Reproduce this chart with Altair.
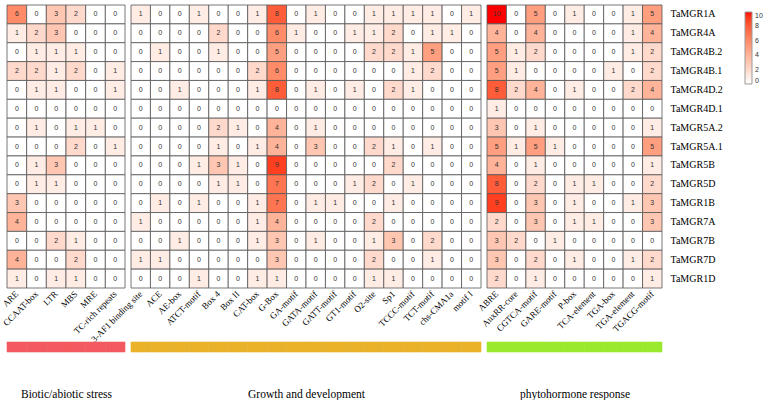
import altair as alt
import pandas as pd

genes = ["TaMGR1A", "TaMGR4A", "TaMGR4B.2", "TaMGR4B.1", "TaMGR4D.2", "TaMGR4D.1",
         "TaMGR5A.2", "TaMGR5A.1", "TaMGR5B", "TaMGR5D", "TaMGR1B", "TaMGR7A",
         "TaMGR7B", "TaMGR7D", "TaMGR1D"]

group_names = ["Biotic/abiotic stress", "Growth and development", "phytohormone response"]

stress_elements = ["ARE", "CCAAT-box", "LTR", "MBS", "MRE", "TC-rich repeats"]
growth_elements = ["3-AF1 binding site", "ACE", "AE-box", "ATCT-motif", "Box 4", "Box II",
                   "CAT-box", "G-Box", "GA-motif", "GATA-motif", "GATT-motif", "GT1-motif",
                   "O2-site", "Sp1", "TCCC-motif", "TCT-motif", "chs-CMA1a", "motif I"]
hormone_elements = ["ABRE", "AuxRR-core", "CGTCA-motif", "GARE-motif", "P-box",
                    "TCA-element", "TGA-box", "TGA-element", "TGACG-motif"]

stress_counts = [
    [6, 0, 3, 2, 0, 0],
    [1, 2, 3, 0, 0, 0],
    [0, 1, 1, 1, 0, 0],
    [2, 2, 1, 2, 0, 1],
    [0, 1, 1, 0, 0, 1],
    [0, 0, 0, 0, 0, 0],
    [0, 1, 0, 1, 1, 0],
    [0, 0, 0, 2, 0, 1],
    [0, 1, 3, 0, 0, 0],
    [0, 1, 1, 0, 0, 0],
    [3, 0, 0, 0, 0, 0],
    [4, 0, 0, 0, 0, 0],
    [0, 0, 2, 1, 0, 0],
    [4, 0, 0, 2, 0, 0],
    [1, 0, 1, 1, 0, 0],
]

growth_counts = [
    [1, 0, 0, 1, 0, 0, 1, 8, 0, 1, 0, 0, 1, 1, 1, 1, 0, 1],
    [0, 0, 0, 0, 2, 0, 0, 6, 1, 0, 0, 1, 1, 2, 0, 1, 1, 0],
    [0, 1, 0, 0, 1, 0, 0, 5, 0, 0, 0, 0, 2, 2, 1, 5, 0, 0],
    [0, 0, 0, 0, 0, 0, 2, 6, 0, 0, 0, 0, 0, 0, 1, 2, 0, 0],
    [0, 0, 1, 0, 0, 0, 1, 8, 0, 1, 0, 1, 0, 2, 1, 0, 0, 0],
    [0, 0, 0, 0, 0, 0, 0, 0, 0, 0, 0, 0, 0, 0, 0, 0, 0, 0],
    [0, 0, 0, 0, 2, 1, 0, 4, 0, 1, 0, 0, 0, 0, 0, 0, 0, 0],
    [0, 0, 0, 0, 1, 0, 1, 4, 0, 3, 0, 0, 2, 1, 0, 1, 0, 0],
    [0, 0, 0, 1, 3, 1, 0, 9, 0, 0, 0, 0, 0, 2, 0, 0, 0, 0],
    [0, 0, 0, 0, 1, 1, 0, 7, 0, 0, 0, 1, 2, 0, 1, 0, 0, 0],
    [0, 1, 0, 1, 0, 0, 1, 7, 0, 1, 1, 0, 0, 1, 0, 0, 0, 0],
    [1, 0, 0, 0, 0, 0, 1, 4, 0, 0, 0, 0, 2, 0, 0, 0, 0, 0],
    [0, 0, 1, 0, 0, 0, 1, 3, 0, 1, 0, 0, 1, 3, 0, 2, 0, 0],
    [1, 1, 0, 0, 0, 0, 0, 3, 0, 0, 0, 0, 2, 0, 0, 1, 0, 0],
    [0, 0, 0, 1, 0, 0, 1, 1, 0, 0, 0, 0, 1, 1, 0, 0, 0, 0],
]

hormone_counts = [
    [10, 0, 5, 0, 1, 0, 0, 1, 5],
    [4, 0, 4, 0, 0, 0, 0, 1, 4],
    [5, 1, 2, 0, 0, 0, 0, 1, 2],
    [5, 1, 0, 0, 0, 0, 1, 0, 2],
    [8, 2, 4, 0, 1, 0, 0, 2, 4],
    [1, 0, 0, 0, 0, 0, 0, 0, 0],
    [3, 0, 1, 0, 0, 0, 0, 0, 1],
    [5, 1, 5, 1, 0, 0, 0, 0, 5],
    [4, 0, 1, 0, 0, 0, 0, 0, 1],
    [8, 0, 2, 0, 1, 1, 0, 0, 2],
    [9, 0, 3, 0, 1, 0, 0, 1, 3],
    [2, 0, 3, 0, 1, 1, 0, 0, 3],
    [3, 2, 0, 1, 0, 0, 0, 0, 0],
    [3, 0, 2, 0, 1, 0, 0, 1, 2],
    [2, 0, 1, 0, 0, 0, 0, 0, 1],
]

legend_values = [0, 2, 4, 6, 8, 10]

# styles
group_colors = ["#F25A60", "#EAB22A", "#9BE92E"]
SERIF = "Liberation Serif"
SANS = "Liberation Sans"
ROW_H = 283

legend = alt.Legend(orient="none", legendX=738, legendY=7, direction="vertical",
                    gradientLength=72, gradientThickness=7, title=None,
                    values=legend_values, labelFontSize=7, labelFont=SANS,
                    labelColor="#333333", gradientStrokeColor="#999999",
                    gradientStrokeWidth=1, labelOffset=3)
color_scale = alt.Scale(domain=[0, 10], range=["#FFFFFF", "#FF0000"], interpolate="lab")


def heat(elements, counts, width, show_y):
    rows = []
    for g, vals in zip(genes, counts):
        for e, v in zip(elements, vals):
            rows.append({"gene": g, "element": e, "count": v})
    df = pd.DataFrame(rows)
    y_axis = (alt.Axis(title=None, orient="right", ticks=False, domain=False,
                       labelPadding=8, labelFont=SERIF, labelFontSize=10,
                       labelColor="black")
              if show_y else None)
    base = alt.Chart(df).encode(
        x=alt.X("element:N", sort=elements,
                scale=alt.Scale(paddingInner=0, paddingOuter=0),
                axis=alt.Axis(title=None, labelAngle=-45, labelAlign="right",
                              labelBaseline="middle", ticks=False, domain=False,
                              labelPadding=4, labelFont=SERIF, labelFontSize=9,
                              labelColor="black")),
        y=alt.Y("gene:N", sort=genes,
                scale=alt.Scale(paddingInner=0, paddingOuter=0),
                axis=y_axis),
    )
    rect = base.mark_rect(stroke="#555555", strokeWidth=0.8).encode(
        color=alt.Color("count:Q", scale=color_scale, legend=legend)
    )
    text = base.mark_text(fontSize=7, font=SANS, color="#333333").encode(
        text="count:Q"
    )
    return alt.layer(rect, text).properties(width=width, height=ROW_H)


def band(elements, name, color, width):
    df = pd.DataFrame({"element": elements, "group": [name] * len(elements)})
    return alt.Chart(df).mark_rect(color=color, stroke=color, strokeWidth=0.6).encode(
        x=alt.X("element:N", sort=elements,
                scale=alt.Scale(paddingInner=0, paddingOuter=0),
                axis=alt.Axis(title=name, orient="bottom", labels=False, ticks=False,
                              domain=False, titleFont=SERIF, titleFontSize=11.5,
                              titleFontWeight="normal", titleColor="black",
                              titlePadding=36))
    ).properties(width=width, height=10)


widths = [118, 350, 175]
h1 = heat(stress_elements, stress_counts, widths[0], False)
h2 = heat(growth_elements, growth_counts, widths[1], False)
h3 = heat(hormone_elements, hormone_counts, widths[2], True)
b1 = band(stress_elements, group_names[0], group_colors[0], widths[0])
b2 = band(growth_elements, group_names[1], group_colors[1], widths[1])
b3 = band(hormone_elements, group_names[2], group_colors[2], widths[2])

chart = alt.concat(
    h1, h2, h3, b1, b2, b3,
    columns=3,
    spacing={"row": 54, "column": 6},
    bounds="flush",
    align="each",
).resolve_scale(
    color="shared", x="independent", y="independent"
).properties(
    padding={"left": 0, "top": 4, "right": 0, "bottom": 0},
    background="white",
).configure_view(stroke=None)

chart.save("out.html", embed_options={"renderer": "svg", "actions": False})
